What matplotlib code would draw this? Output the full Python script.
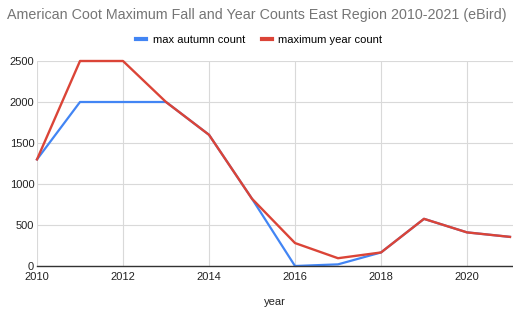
import matplotlib
matplotlib.use('Agg')
import matplotlib.pyplot as plt
from matplotlib.lines import Line2D

plt.rcParams['font.family'] = ['Liberation Sans', 'DejaVu Sans']

# data
years = [2010, 2011, 2012, 2013, 2014, 2015, 2016, 2017, 2018, 2019, 2020, 2021]
max_autumn = [1300, 2000, 2000, 2000, 1600, 820, 0, 20, 165, 575, 410, 355]
max_year = [1300, 2500, 2500, 2000, 1600, 820, 280, 95, 165, 575, 410, 355]
x_ticks = [2010, 2012, 2014, 2016, 2018, 2020]
y_ticks = [0, 500, 1000, 1500, 2000, 2500]

BLUE = '#4285F4'
RED = '#DB4437'

fig = plt.figure(figsize=(5.13, 3.10), dpi=100)
ax = fig.add_axes([37 / 513, 1 - 266 / 310, 1 - 37 / 513, (266 - 61) / 310])

ax.plot(years, max_autumn, color=BLUE, lw=1.6, solid_joinstyle='round', clip_on=False)
ax.plot(years, max_year, color=RED, lw=1.7, solid_joinstyle='round', clip_on=False)

ax.set_xlim(2010, 2021.07)
ax.set_ylim(0, 2500)
ax.set_xticks(x_ticks)
ax.set_yticks(y_ticks)
ax.grid(True, color='#d9d9d9', lw=0.8)
ax.set_axisbelow(True)
for s in ['top', 'right', 'left']:
    ax.spines[s].set_visible(False)
ax.spines['bottom'].set_color('#333333')
ax.spines['bottom'].set_linewidth(1.0)
ax.tick_params(length=0, labelsize=8, colors='#222222', pad=2)
ax.tick_params(axis='x', pad=4)
ax.set_xlabel('year', fontsize=8, color='#222222', labelpad=11)

fig.text(0.5, 0.952, 'American Coot Maximum Fall and Year Counts East Region 2010-2021 (eBird)',
         ha='center', va='center', fontsize=10.3, color='#757575')

handles = [Line2D([], [], color=BLUE, lw=3), Line2D([], [], color=RED, lw=3)]
fig.legend(handles, ['max autumn count', 'maximum year count'], loc='center',
           bbox_to_anchor=(0.505, 0.872), ncol=2, frameon=False, fontsize=8,
           handlelength=0.9, handletextpad=0.6, columnspacing=1.5)

fig.savefig('out.png', dpi=100)
